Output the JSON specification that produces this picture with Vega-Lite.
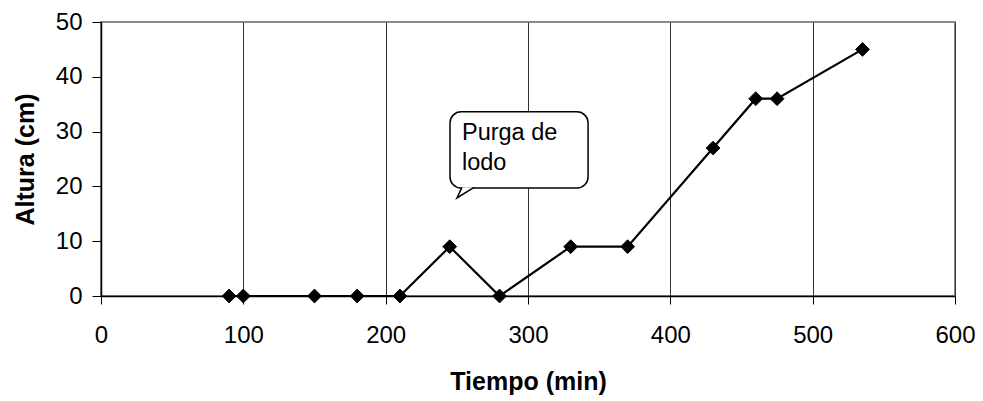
{
  "$schema": "https://vega.github.io/schema/vega-lite/v6.json",
  "width": 854,
  "height": 274,
  "autosize": "none",
  "padding": {"left": 101, "top": 22, "right": 28, "bottom": 105},
  "background": "white",
  "config": {
    "font": "Liberation Sans",
    "view": {"stroke": "#8a8a8a", "strokeWidth": 2},
    "axis": {
      "labelFont": "Liberation Sans",
      "titleFont": "Liberation Sans",
      "labelColor": "black",
      "titleColor": "black",
      "domainColor": "black",
      "tickColor": "black",
      "domainWidth": 1.5,
      "tickWidth": 1,
      "labelFontSize": 24,
      "titleFontSize": 25,
      "titleFontWeight": "bold"
    }
  },
  "datasets": {
    "series": [
      {"tiempo": 90, "altura": 0},
      {"tiempo": 100, "altura": 0},
      {"tiempo": 150, "altura": 0},
      {"tiempo": 180, "altura": 0},
      {"tiempo": 210, "altura": 0},
      {"tiempo": 245, "altura": 9},
      {"tiempo": 280, "altura": 0},
      {"tiempo": 330, "altura": 9},
      {"tiempo": 370, "altura": 9},
      {"tiempo": 430, "altura": 27},
      {"tiempo": 460, "altura": 36},
      {"tiempo": 475, "altura": 36},
      {"tiempo": 535, "altura": 45}
    ],
    "callout": [{"x1": 245.2, "x2": 342.2, "y1": 19.7, "y2": 33.6}],
    "tail": [{"x": 250.1, "y": 17.9}],
    "label": [
      {"x": 253.6, "y": 28.5, "text": "Purga de"},
      {"x": 253.6, "y": 23.0, "text": "lodo"}
    ]
  },
  "layer": [
    {
      "data": {"name": "series"},
      "mark": {"type": "line", "color": "black", "strokeWidth": 2.2},
      "encoding": {
        "x": {
          "field": "tiempo", "type": "quantitative",
          "scale": {"domain": [0, 600], "nice": false, "zero": false},
          "axis": {
            "title": "Tiempo (min)",
            "values": [0, 100, 200, 300, 400, 500, 600],
            "grid": true, "gridColor": "#333333", "gridWidth": 1, "gridOpacity": 1,
            "tickSize": 8, "labelPadding": 19, "titlePadding": 22,
            "labelFlush": false
          }
        },
        "y": {
          "field": "altura", "type": "quantitative",
          "scale": {"domain": [0, 50], "nice": false},
          "axis": {
            "title": "Altura (cm)",
            "values": [0, 10, 20, 30, 40, 50],
            "grid": false,
            "tickSize": 9, "labelPadding": 10, "titlePadding": 17,
            "labelFlush": false
          }
        }
      }
    },
    {
      "data": {"name": "series"},
      "mark": {"type": "point", "shape": "diamond", "filled": true, "color": "black", "size": 190, "strokeWidth": 1, "stroke": "black", "opacity": 1},
      "encoding": {
        "x": {"field": "tiempo", "type": "quantitative"},
        "y": {"field": "altura", "type": "quantitative"}
      }
    },
    {
      "data": {"name": "callout"},
      "mark": {"type": "rect", "fill": "white", "stroke": "black", "strokeWidth": 1.5, "cornerRadius": 11},
      "encoding": {
        "x": {"field": "x1", "type": "quantitative"},
        "x2": {"field": "x2"},
        "y": {"field": "y1", "type": "quantitative"},
        "y2": {"field": "y2"}
      }
    },
    {
      "data": {"name": "tail"},
      "mark": {"type": "point", "shape": "M 5 -10.6 L 0 0 L 17 -10.6", "size": 4, "filled": false, "fill": "white", "fillOpacity": 1, "stroke": "black", "strokeWidth": 1.5, "opacity": 1},
      "encoding": {
        "x": {"field": "x", "type": "quantitative"},
        "y": {"field": "y", "type": "quantitative"}
      }
    },
    {
      "data": {"name": "label"},
      "mark": {"type": "text", "align": "left", "baseline": "alphabetic", "fontSize": 23.5, "font": "Liberation Sans", "color": "black"},
      "encoding": {
        "x": {"field": "x", "type": "quantitative"},
        "y": {"field": "y", "type": "quantitative"},
        "text": {"field": "text"}
      }
    }
  ]
}
